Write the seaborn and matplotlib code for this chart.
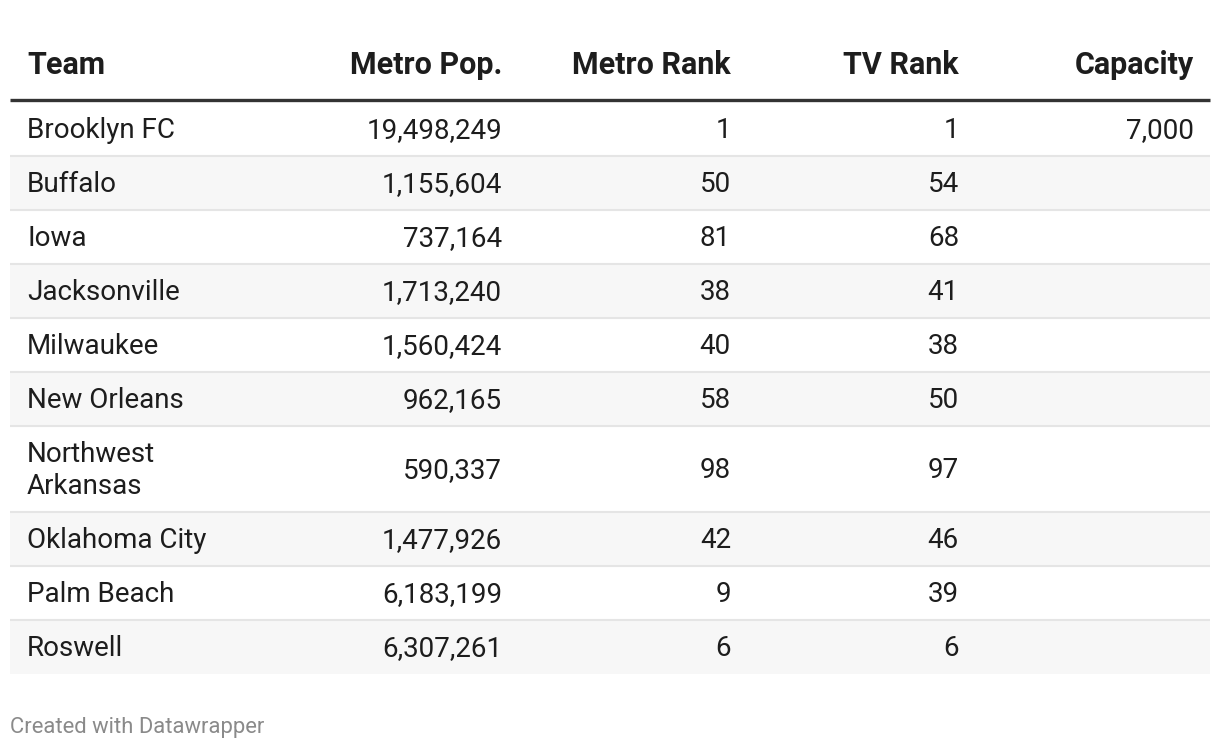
import textwrap
import matplotlib.pyplot as plt
import seaborn as sns

# ---- table data ----
columns = ["Team", "Metro Pop.", "Metro Rank", "TV Rank", "Capacity"]
teams = ["Brooklyn FC", "Buffalo", "Iowa", "Jacksonville", "Milwaukee",
         "New Orleans", "Northwest Arkansas", "Oklahoma City", "Palm Beach", "Roswell"]
metro_pop = [19498249, 1155604, 737164, 1713240, 1560424,
             962165, 590337, 1477926, 6183199, 6307261]
metro_rank = [1, 50, 81, 38, 40, 58, 98, 42, 9, 6]
tv_rank = [1, 54, 68, 41, 38, 50, 97, 46, 39, 6]
capacity = [7000, None, None, None, None, None, None, None, None, None]
# --------------------

sns.set_theme(style="white")
plt.rcParams['font.family'] = ['Roboto', 'DejaVu Sans']

W, H = 1220, 748
fig = plt.figure(figsize=(W / 100, H / 100), dpi=100)
ax = fig.add_axes([0, 0, 1, 1])
ax.set_xlim(0, W)
ax.set_ylim(H, 0)
ax.axis('off')

left, right = 10, 1210
# x anchor and alignment for each column
col_x = [27, 502, 731, 959, 1194]
col_ha = ["left", "right", "right", "right", "right"]

txt = "#1d1d1d"
fs = 20.0

# header
for name, x, ha in zip(columns, col_x, col_ha):
    ax.text(x, 74, name, ha=ha, va="baseline", fontsize=22, fontweight="bold", color=txt)
ax.plot([left, right], [100, 100], color="#333333", lw=2.4, solid_capstyle="butt")

# body rows
y = 102
line_h = 32
for i, team in enumerate(teams):
    lines = textwrap.wrap(team, 14)
    h = 54 + line_h * (len(lines) - 1)
    if i % 2 == 1:
        ax.fill_between([left, right], y, y + h, color="#f7f7f7", lw=0)
    yc = y + h / 2
    for k, ln in enumerate(lines):
        ax.text(col_x[0], yc + 9 + (k - (len(lines) - 1) / 2) * line_h, ln,
                ha="left", va="baseline", fontsize=fs, color=txt)
    vals = [metro_pop[i], metro_rank[i], tv_rank[i], capacity[i]]
    for v, x in zip(vals, col_x[1:]):
        if v is None:
            continue
        ax.text(x, yc + 9, f"{v:,}", ha="right", va="baseline", fontsize=fs, color=txt)
    y += h
    if i < len(teams) - 1:
        ax.plot([left, right], [y, y], color="#e5e5e5", lw=1.5, solid_capstyle="butt")

ax.text(10, 733, "Created with Datawrapper", ha="left", va="baseline",
        fontsize=15.8, color="#8a8a8a")

fig.savefig("out.png", dpi=100)
